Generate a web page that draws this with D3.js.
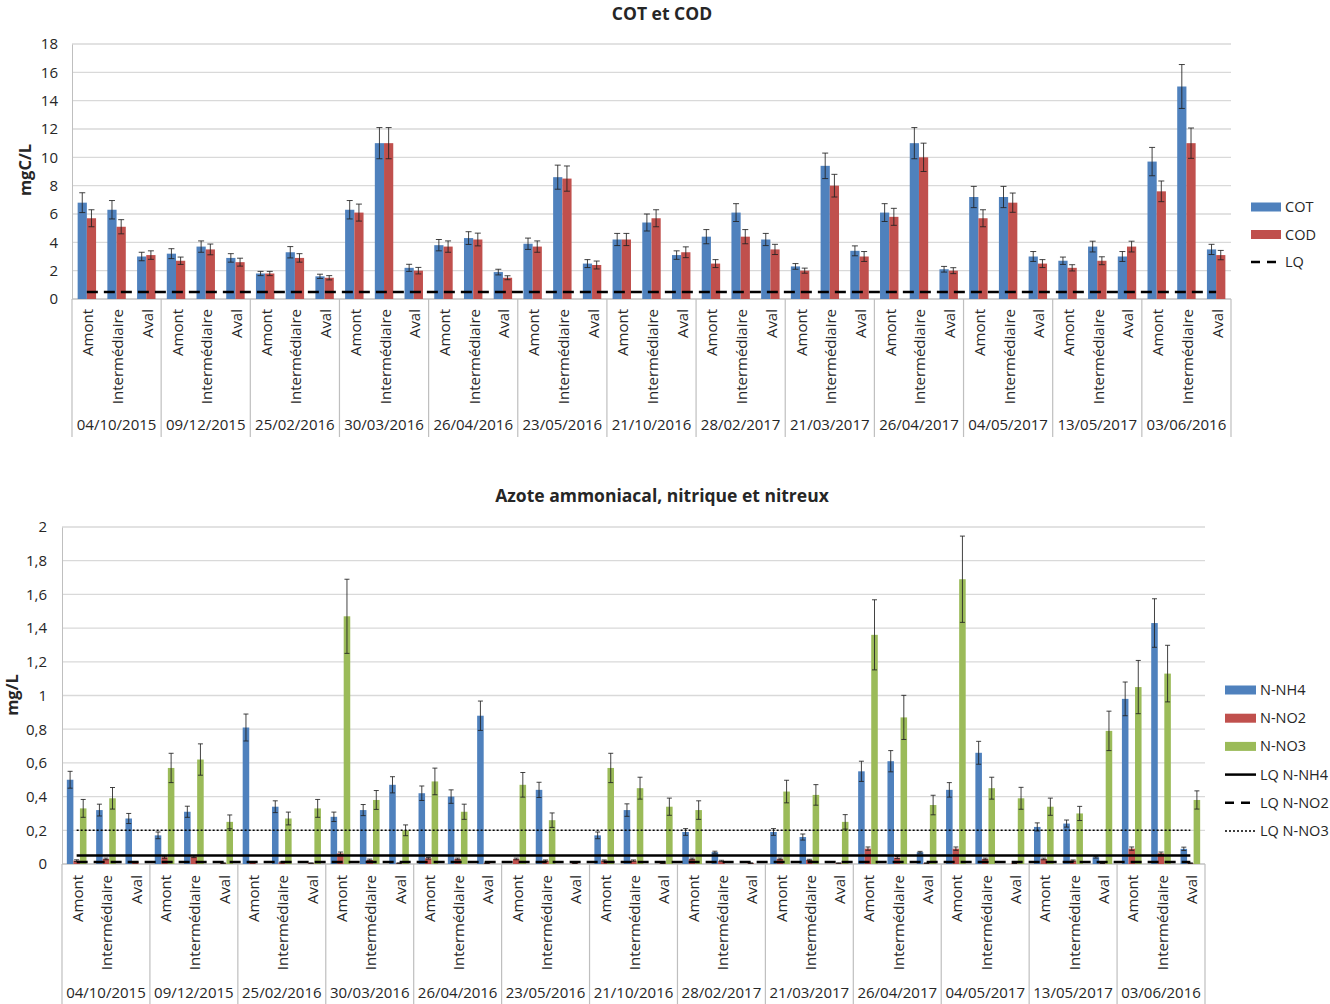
<!DOCTYPE html>
<html><head><meta charset="utf-8">
<script src="https://cdn.jsdelivr.net/npm/d3@7"></script>
<style>
body{margin:0;background:#fff;}
svg text{font-family:"Open Sans",sans-serif;fill:#262626;}
</style></head>
<body><svg id="c" width="1330" height="1004"></svg>
<script>
const dates = ["04/10/2015","09/12/2015","25/02/2016","30/03/2016","26/04/2016","23/05/2016","21/10/2016","28/02/2017","21/03/2017","26/04/2017","04/05/2017","13/05/2017","03/06/2016"];
const sites = ["Amont","Intermédiaire","Aval"];

// Chart 1 : COT / COD (mgC/L)
const cot = [6.8,6.3,3.0, 3.2,3.7,2.9, 1.8,3.3,1.6, 6.3,11.0,2.2, 3.8,4.3,1.9, 3.9,8.6,2.5, 4.2,5.4,3.1, 4.4,6.1,4.2, 2.3,9.4,3.4, 6.1,11.0,2.1, 7.2,7.2,3.0, 2.7,3.7,3.0, 9.7,15.0,3.5];
const cotErr = [0.7,0.65,0.3, 0.35,0.4,0.3, 0.15,0.4,0.15, 0.65,1.1,0.25, 0.4,0.45,0.2, 0.4,0.85,0.28, 0.43,0.6,0.3, 0.5,0.63,0.43, 0.2,0.9,0.35, 0.63,1.1,0.2, 0.75,0.75,0.35, 0.26,0.38,0.35, 1.0,1.55,0.36];
const cod = [5.7,5.1,3.1, 2.7,3.5,2.6, 1.8,2.9,1.5, 6.1,11.0,2.0, 3.7,4.2,1.5, 3.7,8.5,2.4, 4.2,5.7,3.3, 2.5,4.4,3.5, 2.0,8.0,3.0, 5.8,10.0,2.0, 5.7,6.8,2.5, 2.2,2.7,3.7, 7.6,11.0,3.1];
const codErr = [0.6,0.5,0.3, 0.26,0.38,0.28, 0.15,0.3,0.15, 0.6,1.1,0.23, 0.4,0.45,0.14, 0.4,0.89,0.28, 0.43,0.6,0.38, 0.28,0.5,0.36, 0.18,0.8,0.35, 0.6,1.0,0.21, 0.6,0.68,0.28, 0.22,0.28,0.38, 0.73,1.07,0.33];
const lqC = 0.5;
const ticks1 = [0,2,4,6,8,10,12,14,16,18];

// Chart 2 : N-NH4 / N-NO2 / N-NO3 (mg/L)
const nh4 = [0.50,0.32,0.27, 0.17,0.31,0, 0.81,0.34,0, 0.28,0.32,0.47, 0.42,0.40,0.88, 0,0.44,0, 0.17,0.32,0, 0.19,0.07,0, 0.19,0.16,0, 0.55,0.61,0.07, 0.44,0.66,0, 0.22,0.24,0.04, 0.98,1.43,0.09];
const nh4Err = [0.05,0.035,0.03, 0.02,0.033,0, 0.08,0.035,0, 0.028,0.033,0.048, 0.043,0.04,0.087, 0,0.045,0, 0.02,0.037,0, 0.02,0.006,0, 0.02,0.018,0, 0.06,0.063,0.005, 0.043,0.068,0, 0.024,0.021,0.005, 0.1,0.144,0.01];
const no2 = [0.02,0.03,0.01, 0.04,0.044,0.005, 0.01,0.01,0.005, 0.063,0.024,0.005, 0.034,0.03,0.005, 0.03,0.02,0.005, 0.02,0.02,0.005, 0.03,0.018,0.005, 0.03,0.024,0.005, 0.091,0.038,0.005, 0.091,0.03,0.005, 0.03,0.02,0.005, 0.091,0.063,0.005];
const no2Err = [0.005,0.005,0.003, 0.006,0.006,0.002, 0.003,0.003,0.002, 0.008,0.005,0.002, 0.005,0.005,0.002, 0.005,0.004,0.002, 0.004,0.004,0.002, 0.005,0.004,0.002, 0.005,0.004,0.002, 0.01,0.006,0.002, 0.01,0.005,0.002, 0.005,0.004,0.002, 0.01,0.008,0.002];
const no3 = [0.33,0.39,0, 0.57,0.62,0.25, 0,0.27,0.33, 1.47,0.38,0.20, 0.49,0.31,0, 0.47,0.26,0, 0.57,0.45,0.34, 0.32,0,0, 0.43,0.41,0.25, 1.36,0.87,0.35, 1.69,0.45,0.39, 0.34,0.30,0.79, 1.05,1.13,0.38];
const no3Err = [0.053,0.064,0, 0.087,0.093,0.041, 0,0.038,0.053, 0.22,0.056,0.032, 0.079,0.045,0, 0.073,0.043,0, 0.087,0.065,0.051, 0.055,0,0, 0.067,0.061,0.043, 0.208,0.131,0.058, 0.256,0.065,0.065, 0.051,0.042,0.117, 0.158,0.168,0.054];
const lqNH4 = 0.05, lqNO2 = 0.012, lqNO3 = 0.2;
const ticks2 = [0,0.2,0.4,0.6,0.8,1,1.2,1.4,1.6,1.8,2];

const BLUE="#4F81BD", RED="#C0504D", GREEN="#9BBB59", GRID="#d9d9d9", AX="#bfbfbf";
const svg = d3.select("#c");
const cats = [];
dates.forEach((d,gi)=>sites.forEach((s,si)=>cats.push({key:gi+"-"+si,date:d,site:s,gi:gi})));

function chart(o){
  const g = svg.append("g");
  const x = d3.scaleBand().domain(cats.map(c=>c.key)).range([o.x0,o.x1]).padding(0);
  const y = d3.scaleLinear().domain(o.dom).range([o.yb,o.yt]);
  const bw = x.bandwidth();
  g.selectAll(".gr").data(o.ticks).enter().append("line")
    .attr("x1",o.x0).attr("x2",o.x1).attr("y1",d=>y(d)).attr("y2",d=>y(d))
    .attr("stroke",GRID).attr("stroke-width",1.3);
  const ya = d3.axisLeft(y).tickValues(o.ticks).tickSize(0).tickPadding(o.tickPad).tickFormat(o.fmt);
  const yg = g.append("g").attr("transform",`translate(${o.x0},0)`).call(ya);
  yg.select(".domain").attr("stroke",AX);
  yg.selectAll("text").attr("font-size",15).attr("fill","#262626").style("font-family","Open Sans");
  g.append("line").attr("x1",o.x0).attr("x2",o.x1).attr("y1",o.yb).attr("y2",o.yb).attr("stroke",AX);
  const seps = d3.range(dates.length+1).map(i=> i<dates.length ? x(i+"-0") : o.x1);
  g.selectAll(".sep").data(seps).enter().append("line")
    .attr("x1",d=>d).attr("x2",d=>d).attr("y1",o.yb).attr("y2",o.sepEnd).attr("stroke",AX).attr("stroke-width",1.2);
  const n = o.series.length, tot = bw*o.frac, sw = tot/n;
  o.series.forEach((s,k)=>{
    const data = cats.map((c,i)=>({c:c,v:s.vals[i],e:s.err[i]}));
    const bx = d=> x(d.c.key)+bw/2-tot/2+k*sw;
    g.selectAll(".b"+k).data(data.filter(d=>d.v>0)).enter().append("rect")
      .attr("x",bx).attr("width",sw).attr("y",d=>y(d.v)).attr("height",d=>y(0)-y(d.v)).attr("fill",s.color);
    const eb = data.filter(d=>d.v>0 && d.e>0);
    const ex = d=> bx(d)+sw/2;
    const cw = o.cap;
    eb.forEach(d=>{
      const p = d3.path();
      p.moveTo(ex(d),y(d.v-d.e)); p.lineTo(ex(d),y(d.v+d.e));
      p.moveTo(ex(d)-cw,y(d.v+d.e)); p.lineTo(ex(d)+cw,y(d.v+d.e));
      p.moveTo(ex(d)-cw,y(d.v-d.e)); p.lineTo(ex(d)+cw,y(d.v-d.e));
      g.append("path").attr("d",p.toString()).attr("stroke","#222").attr("stroke-width",1).attr("fill","none").attr("opacity",0.85);
    });
  });
  const first = x(cats[0].key)+bw/2, last = x(cats[cats.length-1].key)+bw/2;
  o.lines.forEach(l=>{
    g.append("line").attr("x1",first).attr("x2",last).attr("y1",y(l.v)).attr("y2",y(l.v))
      .attr("stroke","#000").attr("stroke-width",l.w).attr("stroke-dasharray",l.dash||null);
  });
  g.selectAll(".cl").data(cats).enter().append("text")
    .attr("transform",d=>`translate(${x(d.key)+bw/2+6.5},${o.yb+o.catOff}) rotate(-90)`)
    .attr("text-anchor","end").attr("font-size",15).text(d=>d.site);
  g.selectAll(".dl").data(dates).enter().append("text")
    .attr("x",(d,i)=>(seps[i]+seps[i+1])/2).attr("y",o.dateY).attr("text-anchor","middle")
    .attr("font-size",15).text(d=>d);
  g.append("text").attr("x",o.titleX).attr("y",o.titleY).attr("text-anchor","middle")
    .attr("font-size",17.5).attr("font-weight","bold").text(o.title);
  g.append("text").attr("transform",`translate(${o.ylabX},${o.ylabY}) rotate(-90)`)
    .attr("text-anchor","middle").attr("font-size",16.5).attr("font-weight","bold").text(o.ylab);
  o.legend.forEach((l,i)=>{
    const ly = o.legY + i*o.legStep;
    if(l.color){
      g.append("rect").attr("x",o.legX).attr("y",ly-4.5).attr("width",o.legW).attr("height",9).attr("fill",l.color);
    } else {
      g.append("line").attr("x1",o.legX).attr("x2",o.legX+o.legW).attr("y1",ly).attr("y2",ly)
        .attr("stroke","#000").attr("stroke-width",l.w).attr("stroke-dasharray",l.dash||null);
    }
    g.append("text").attr("x",o.legX+o.legW+4).attr("y",ly+5).attr("font-size",14.5).text(l.name);
  });
}

const fmt2 = d=> d3.format("~g")(d).replace(".",",");

chart({x0:72,x1:1231,yb:299,yt:44,dom:[0,18],ticks:ticks1,fmt:d=>d,tickPad:14,sepEnd:437,frac:0.62,cap:3,catOff:10,
  series:[{vals:cot,err:cotErr,color:BLUE},{vals:cod,err:codErr,color:RED}],
  lines:[{v:lqC,w:2.5,dash:"11,6"}],
  dateY:430,title:"COT et COD",titleX:662,titleY:20,ylab:"mgC/L",ylabX:31,ylabY:170,
  legX:1251,legY:207,legStep:27.5,legW:30,
  legend:[{name:"COT",color:BLUE},{name:"COD",color:RED},{name:"LQ",w:2.5,dash:"9,7"}]});

chart({x0:62,x1:1205,yb:864,yt:527,dom:[0,2],ticks:ticks2,fmt:fmt2,tickPad:15,sepEnd:1004,frac:0.67,cap:2.5,catOff:11,
  series:[{vals:nh4,err:nh4Err,color:BLUE},{vals:no2,err:no2Err,color:RED},{vals:no3,err:no3Err,color:GREEN}],
  lines:[{v:lqNH4,w:2.5},{v:lqNO2,w:2.5,dash:"11,6"},{v:lqNO3,w:1.5,dash:"2,2"}],
  dateY:998,title:"Azote ammoniacal, nitrique et nitreux",titleX:662,titleY:502,ylab:"mg/L",ylabX:18,ylabY:695,
  legX:1225,legY:690,legStep:28.2,legW:31,
  legend:[{name:"N-NH4",color:BLUE},{name:"N-NO2",color:RED},{name:"N-NO3",color:GREEN},
    {name:"LQ N-NH4",w:2.5},{name:"LQ N-NO2",w:2.5,dash:"9,7"},{name:"LQ N-NO3",w:1.5,dash:"2,2"}]});
</script></body></html>
